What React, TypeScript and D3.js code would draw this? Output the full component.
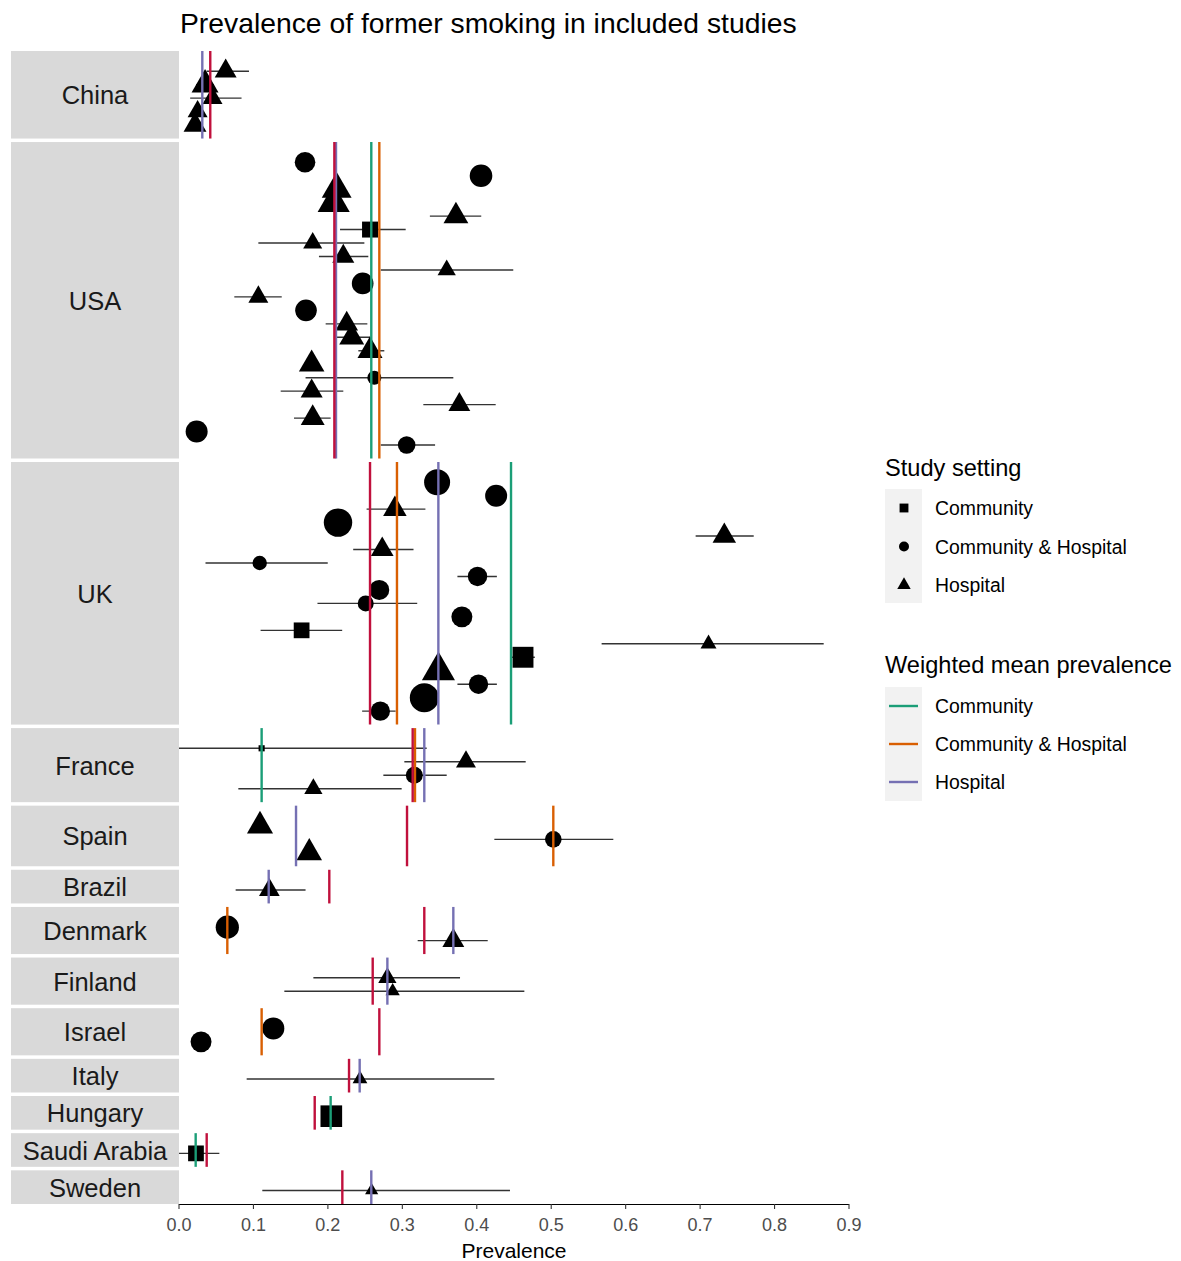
import React from "react";
import * as d3 from "d3";

// ---------- DATA ----------
const countries = ["China", "USA", "UK", "France", "Spain", "Brazil", "Denmark", "Finland", "Israel", "Italy", "Hungary", "Saudi Arabia", "Sweden"];

const settings = ["Community", "Community & Hospital", "Hospital"];

// one entry per study, in plotting order (top to bottom inside each country)
const studyCountry = [
  "China", "China", "China", "China", "China",
  "USA", "USA", "USA", "USA", "USA", "USA", "USA", "USA", "USA", "USA", "USA",
  "USA", "USA", "USA", "USA", "USA", "USA", "USA", "USA", "USA", "USA", "USA",
  "UK", "UK", "UK", "UK", "UK", "UK", "UK", "UK", "UK",
  "UK", "UK", "UK", "UK", "UK", "UK", "UK", "UK", "UK",
  "France", "France", "France", "France",
  "Spain", "Spain", "Spain",
  "Brazil",
  "Denmark", "Denmark",
  "Finland", "Finland",
  "Israel", "Israel",
  "Italy",
  "Hungary",
  "Saudi Arabia",
  "Sweden",
];

// C = Community, CH = Community & Hospital, H = Hospital
const studySetting = [
  "H", "H", "H", "H", "H",
  "CH", "CH", "H", "H", "H", "C", "H", "H", "H", "CH", "H",
  "CH", "H", "H", "H", "H", "CH", "H", "H", "H", "CH", "CH",
  "CH", "CH", "H", "CH", "H", "H", "CH", "CH", "CH",
  "CH", "CH", "C", "H", "C", "H", "CH", "CH", "CH",
  "C", "H", "CH", "H",
  "H", "CH", "H",
  "H",
  "CH", "H",
  "H", "H",
  "CH", "CH",
  "H",
  "C",
  "C",
  "H",
];

const prevalence = [
  0.0627, 0.035, 0.045, 0.025, 0.0215,
  0.1693, 0.4057, 0.2118, 0.2078, 0.372, 0.2566, 0.1796, 0.2207, 0.3596, 0.2467, 0.1066,
  0.1706, 0.2253, 0.232, 0.2566, 0.1782, 0.2624, 0.1782, 0.3766, 0.1796, 0.0237, 0.3058,
  0.3467, 0.426, 0.29, 0.2136, 0.7325, 0.273, 0.1084, 0.401, 0.269,
  0.2508, 0.38, 0.1647, 0.7113, 0.4621, 0.3485, 0.4023, 0.3295, 0.2704,
  0.111, 0.3855, 0.3161, 0.1805,
  0.1088, 0.5028, 0.175,
  0.1214,
  0.0649, 0.3685,
  0.2799, 0.287,
  0.1267, 0.0296,
  0.2431,
  0.2046,
  0.0228,
  0.2588,
];

const ciLower = [
  0.037, 0.023, 0.015, 0.018, 0.014,
  0.158, 0.394, 0.2, 0.196, 0.337, 0.2163, 0.1066, 0.188, 0.271, 0.236, 0.0743,
  0.16, 0.197, 0.2118, 0.2409, 0.171, 0.17, 0.1366, 0.3282, 0.1545, 0.013, 0.271,
  0.332, 0.414, 0.252, 0.198, 0.694, 0.234, 0.0356, 0.374, 0.259,
  0.186, 0.369, 0.1096, 0.5677, 0.447, 0.337, 0.374, 0.314, 0.246,
  0.0, 0.3027, 0.2745, 0.0797,
  0.1, 0.4236, 0.166,
  0.0761,
  0.053, 0.3206,
  0.1805, 0.1415,
  0.116, 0.019,
  0.0909,
  0.193,
  0.0,
  0.1119,
];

const ciUpper = [
  0.094, 0.047, 0.084, 0.032, 0.029,
  0.18, 0.418, 0.224, 0.22, 0.406, 0.3045, 0.249, 0.2543, 0.449, 0.258, 0.138,
  0.181, 0.253, 0.2566, 0.2758, 0.186, 0.3685, 0.2207, 0.4254, 0.2037, 0.035, 0.344,
  0.361, 0.438, 0.331, 0.229, 0.772, 0.315, 0.1998, 0.427, 0.279,
  0.32, 0.391, 0.2192, 0.866, 0.478, 0.36, 0.427, 0.345, 0.291,
  0.3327, 0.4657, 0.3596, 0.2991,
  0.118, 0.5834, 0.184,
  0.17,
  0.077, 0.4147,
  0.3775, 0.4639,
  0.138, 0.04,
  0.4236,
  0.216,
  0.0542,
  0.4446,
];

// relative study weight (marker area)
const studyWeight = [
  66, 100, 55, 55, 72,
  106, 128, 123, 142, 85, 81, 50, 67, 46, 117, 55,
  117, 71, 86, 86, 90, 49, 67, 66, 79, 121, 77,
  169, 121, 76, 202, 76, 71, 52, 94, 100,
  64, 110, 79, 35, 139, 151, 94, 210, 94,
  12, 55, 72, 46,
  94, 69, 90,
  59,
  135, 66,
  46, 28,
  121, 110,
  30,
  149,
  79,
  24,
];

// weighted mean prevalence per country and setting (null = no studies)
const meanCommunity = [null, 0.2583, 0.446, 0.111, null, null, null, null, null, null, 0.2037, 0.0224, null];
const meanCommHosp = [null, 0.2691, 0.2928, 0.317, 0.5028, null, 0.0649, null, 0.111, null, null, null, null];
const meanHospital = [0.0313, 0.2109, 0.3484, 0.3295, 0.1572, 0.1205, 0.3685, 0.2799, null, 0.2427, null, null, 0.2583];
// country reference prevalence (dark red line)
const countryReference = [0.042, 0.2087, 0.2566, 0.3139, 0.3063, 0.2019, 0.3295, 0.2602, 0.2691, 0.2284, 0.1823, 0.0372, 0.2194];

const xTicks = [0, 0.1, 0.2, 0.3, 0.4, 0.5, 0.6, 0.7, 0.8, 0.9];

// ---------- STYLE ----------
const FONT = "'Liberation Sans', Arial, Helvetica, sans-serif";
const settingColors = ["#1B9E77", "#D95F02", "#7570B3"];
const refColor = "#C0103C";
const settingCode = ["C", "CH", "H"];

export default function App() {
  const W = 1181, H = 1261;
  const left = 179, right = 849, top = 51, bottom = 1204, gap = 3.5;
  const stripLeft = 11;

  const x = d3.scaleLinear().domain([0, 0.9]).range([left, right]);
  const rScale = d3.scaleSqrt().domain([0, 225]).range([0, 15]);

  const counts = countries.map((c) => studyCountry.filter((s) => s === c).length);
  const units = d3.sum(counts, (n) => n + 1.5);
  const step = (bottom - top - gap * (countries.length - 1)) / units;

  let cursor = top;
  const panels = countries.map((c, k) => {
    const n = counts[k];
    const h = (n + 1.5) * step;
    const p = {
      country: c,
      k,
      top: cursor,
      bottom: cursor + h,
      y: d3.scaleLinear().domain([-1.5, n]).range([cursor, cursor + h]),
    };
    cursor += h + gap;
    return p;
  });

  const rowCounter: Record<string, number> = {};
  const studies = prevalence.map((p, i) => {
    const c = studyCountry[i];
    const row = rowCounter[c] ?? 0;
    rowCounter[c] = row + 1;
    const panel = panels[countries.indexOf(c)];
    return {
      p,
      lo: ciLower[i],
      hi: ciUpper[i],
      setting: studySetting[i],
      cy: panel.y(row),
      r: rScale(studyWeight[i]),
    };
  });

  const symFor = (s: string) =>
    s === "C" ? d3.symbolSquare : s === "CH" ? d3.symbolCircle : d3.symbolTriangle;
  const symPath = (s: string, r: number) => d3.symbol().type(symFor(s)).size(Math.PI * r * r)() as string;

  const clampX = (v: number) => x(Math.max(0, Math.min(0.9, v)));
  const meanSets = [meanCommunity, meanCommHosp, meanHospital];

  const legX = 885;
  const legKeyW = 37;

  return (
    <div style={{ position: "absolute", left: 0, top: 0 }}>
      <svg width={W} height={H} style={{ display: "block", background: "#fff", fontFamily: FONT }}>
        {/* title */}
        <text x={180} y={33} fontSize={28.3} fill="#000">
          Prevalence of former smoking in included studies
        </text>

        {/* strips */}
        {panels.map((p) => (
          <g key={"strip" + p.k}>
            <rect x={stripLeft} y={p.top} width={left - stripLeft} height={p.bottom - p.top} fill="#D9D9D9" />
            <text
              x={(stripLeft + left) / 2}
              y={(p.top + p.bottom) / 2 + 9.5}
              fontSize={25.5}
              textAnchor="middle"
              fill="#1A1A1A"
            >
              {p.country}
            </text>
          </g>
        ))}

        {/* error bars */}
        {studies.map((s, i) => (
          <line
            key={"eb" + i}
            x1={clampX(s.lo)}
            x2={clampX(s.hi)}
            y1={s.cy}
            y2={s.cy}
            stroke="#333333"
            strokeWidth={1.4}
          />
        ))}

        {/* points */}
        {studies.map((s, i) => (
          <path key={"pt" + i} d={symPath(s.setting, s.r)} transform={`translate(${x(s.p)},${s.cy})`} fill="#000" />
        ))}

        {/* setting weighted means */}
        {panels.map((p) =>
          meanSets.map((arr, j) =>
            arr[p.k] == null ? null : (
              <line
                key={"m" + p.k + "-" + j}
                x1={x(arr[p.k] as number)}
                x2={x(arr[p.k] as number)}
                y1={p.top}
                y2={p.bottom}
                stroke={settingColors[j]}
                strokeWidth={2.4}
              />
            )
          )
        )}

        {/* country reference */}
        {panels.map((p) => (
          <line
            key={"ref" + p.k}
            x1={x(countryReference[p.k])}
            x2={x(countryReference[p.k])}
            y1={p.top}
            y2={p.bottom}
            stroke={refColor}
            strokeWidth={2.4}
          />
        ))}

        {/* x axis */}
        <g>
          <line x1={left} x2={right} y1={bottom + 0.5} y2={bottom + 0.5} stroke="#000" strokeWidth={1.1} />
          {xTicks.map((t) => (
            <g key={"t" + t}>
              <line x1={x(t)} x2={x(t)} y1={bottom} y2={bottom + 5} stroke="#333" strokeWidth={1.1} />
              <text x={x(t)} y={1231} fontSize={18} textAnchor="middle" fill="#4D4D4D">
                {d3.format(".1f")(t)}
              </text>
            </g>
          ))}
          <text x={(left + right) / 2} y={1258} fontSize={21} textAnchor="middle" fill="#000">
            Prevalence
          </text>
        </g>

        {/* legend: Study setting */}
        <g>
          <text x={legX} y={476} fontSize={23.6} fill="#000">Study setting</text>
          <rect x={legX} y={489} width={legKeyW} height={114} fill="#F2F2F2" />
          {settings.map((lab, j) => {
            const cy = 508 + j * 38.5;
            return (
              <g key={"ls" + j}>
                <path d={symPath(settingCode[j], 5)} transform={`translate(${legX + 19},${cy})`} fill="#000" />
                <text x={935} y={cy + 7} fontSize={19.4} fill="#000">{lab}</text>
              </g>
            );
          })}
        </g>

        {/* legend: Weighted mean prevalence */}
        <g>
          <text x={legX} y={673} fontSize={23.6} fill="#000">Weighted mean prevalence</text>
          <rect x={legX} y={687} width={legKeyW} height={114} fill="#F2F2F2" />
          {settings.map((lab, j) => {
            const cy = 706 + j * 38;
            return (
              <g key={"lm" + j}>
                <line x1={legX + 4} x2={legX + 33} y1={cy} y2={cy} stroke={settingColors[j]} strokeWidth={2.4} />
                <text x={935} y={cy + 7} fontSize={19.4} fill="#000">{lab}</text>
              </g>
            );
          })}
        </g>
      </svg>
    </div>
  );
}
